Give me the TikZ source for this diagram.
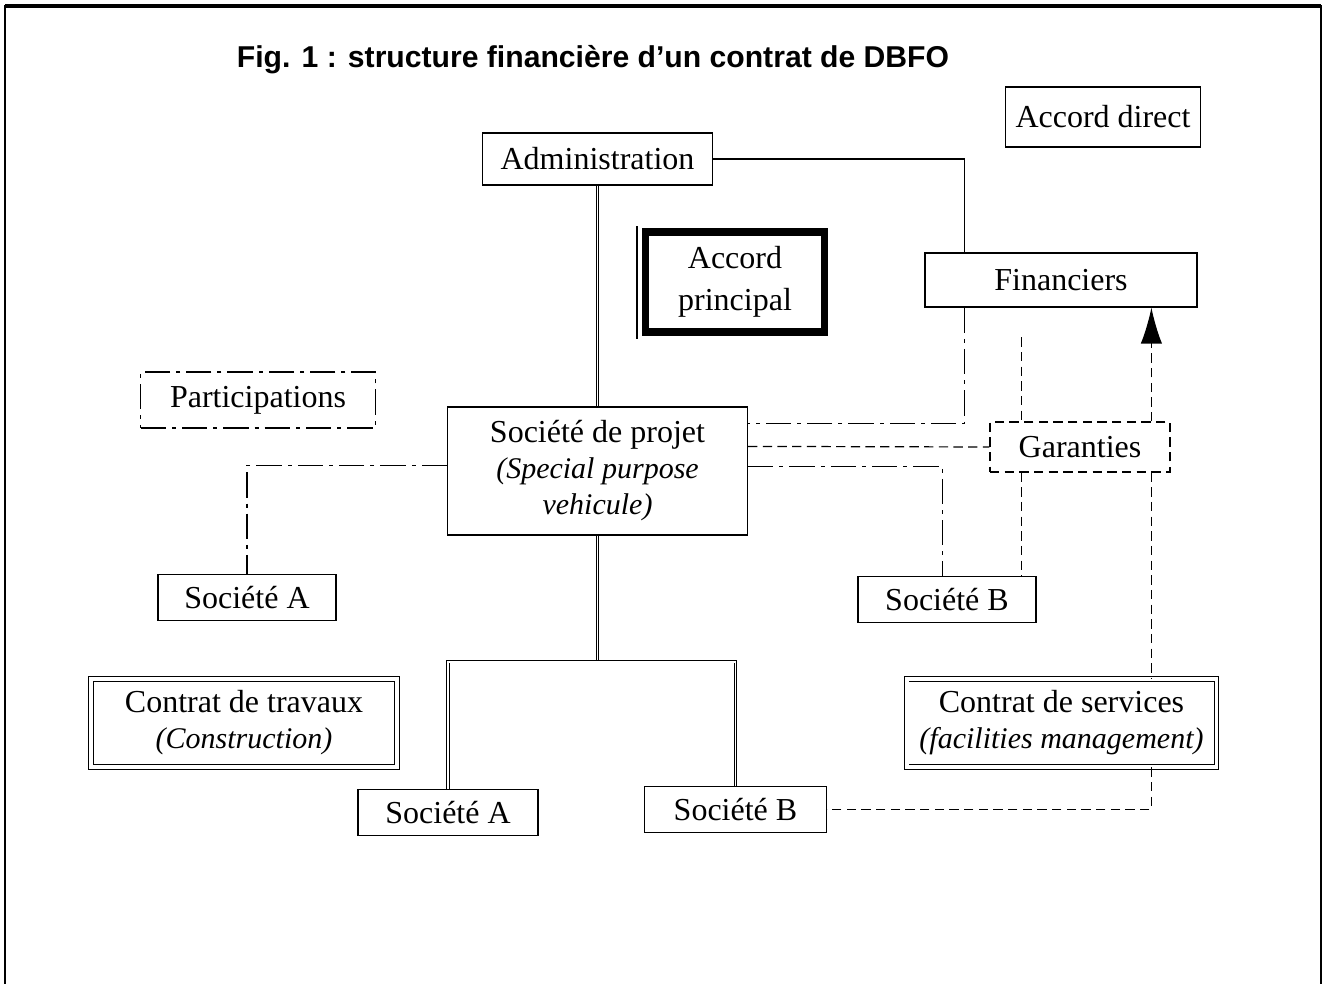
\documentclass[tikz,border=0pt]{standalone}
\usepackage{fontspec}
\setmainfont{Liberation Serif}
\newfontfamily\titlefont{Liberation Sans}
\usetikzlibrary{calc,arrows.meta}
\tikzset{every picture/.style={line width=0.9pt}}
\tikzset{
	cbox/.style={draw, inner sep=0pt, align=center, font=\fontsize{24}{27}\selectfont},
	dblbox/.style={cbox, double, double distance=2.5pt, line width=0.7pt},
	dashbox/.style={cbox, dash pattern=on 7pt off 4pt},
	chainbox/.style={cbox, dash pattern=on 19pt off 4.5pt on 3pt off 4.5pt},
	dbl/.style={double, double distance=1.4pt, line width=0.65pt},
	dashln/.style={dash pattern=on 7pt off 4pt},
	chainln/.style={dash pattern=on 19pt off 4.5pt on 3pt off 4.5pt},
}
\newcommand\itl[1]{{\fontsize{22.5}{27}\selectfont\itshape #1}}

\begin{document}
\begin{tikzpicture}[x=0.75pt,y=0.75pt,yscale=-1,xscale=1]
	\useasboundingbox (0,0) rectangle (1325,984);
	
	%Frame
	\draw [line width=1.5pt] (5,984) -- (5,6) -- (1321,6) -- (1321,984) ;
	\draw [line width=2.3pt] (5,6) -- (1321,6) ;
	
	% Text Node
	\node (title) at (593,60) {\titlefont\bfseries\fontsize{22.6}{26}\selectfont Fig. 1 : structure financière d’un contrat de DBFO};
	
	%Shape: Rectangle
	\node [cbox, minimum width=146pt, minimum height=45pt] (accdir) at (1103,117) {Accord direct};
	\node [cbox, minimum width=172.5pt, minimum height=39pt] (admin) at (597.5,159) {Administration};
	%Shape: thick Rectangle
	\node [cbox, line width=5.6pt, minimum width=134pt, minimum height=75pt, font=\fontsize{24}{31.5}\selectfont] (accprin) at (735,282) {Accord\\principal};
	\draw ($(accprin.north west)+(-5,-2)$) -- ($(accprin.south west)+(-5,3)$) ;
	\node [cbox, minimum width=204pt, minimum height=40.5pt] (fin) at (1061,280) {Financiers};
	\node [chainbox, minimum width=176pt, minimum height=42pt] (partic) at (258,400) {Participations};
	\node [cbox, minimum width=225pt, minimum height=96pt] (sdp) at (597.5,471) {Société de projet\\\itl{(Special purpose}\\\itl{vehicule)}};
	\node [dashbox, minimum width=135pt, minimum height=37.5pt] (garant) at (1080,447) {Garanties};
	\node [cbox, minimum width=133.5pt, minimum height=34pt] (socAup) at (247,597.5) {Société A};
	\node [cbox, minimum width=133.5pt, minimum height=34pt] (socBup) at (947,599.5) {Société B};
	%Shape: double Rectangle
	\node [dblbox, minimum width=229.5pt, minimum height=66pt] (trav) at (244,723) {Contrat de travaux\\\itl{(Construction)}};
	\node [dblbox, minimum width=232pt, minimum height=66pt] (serv) at (1061.5,723) {Contrat de services\\\itl{(facilities management)}};
	\node [cbox, minimum width=135pt, minimum height=34pt] (socAlo) at (448,812.5) {Société A};
	\node [cbox, minimum width=136pt, minimum height=34pt] (socBlo) at (735.5,809.5) {Société B};
	
	%Points
	\coordinate (finA) at ($(fin.north west)+(40,0)$);
	\coordinate (sdpA) at ($(sdp.north east)+(0,17)$);
	\coordinate (sdpB) at ($(sdp.north east)+(0,40)$);
	\coordinate (sdpC) at ($(sdp.north east)+(0,60)$);
	\coordinate (sdpD) at ($(sdp.north west)+(0,59)$);
	\coordinate (garA) at ($(garant.north west)+(32,0)$);
	\coordinate (garB) at ($(garant.north west)+(162,0)$);
	\coordinate (garTop) at ($(garA)+(0,-84)$);
	\coordinate (sbA) at ($(socBup.north west)+(85,0)$);
	\coordinate (fork) at ($(sdp.south)+(0,126)$);
	
	%Straight Lines
	\draw [dbl] (admin.south) -- (sdp.north) ;
	\draw (admin.east) -| (finA) ;
	\draw [chainln] (finA |- fin.south) |- (sdpA) ;
	\draw [chainln] (sdpC) -| (sbA) ;
	\draw [chainln] (sdpD) -| (socAup.north) ;
	\draw [dashln] (sdpB) -- (garant.west) ;
	\draw [dashln] (garTop) -- (garA) ;
	\draw [dashln] (garA |- garant.south) -- (garA |- socBup.north) ;
	\draw [dashln, -{Latex[length=27pt,width=16pt]}] (garB) -- (garB |- fin.south) ;
	\draw [dashln] (garB |- garant.south) -- (garB |- serv.north) ;
	\draw [dashln] (garB |- serv.south) |- (socBlo.east) ;
	\draw [dbl] (sdp.south) -- (fork) ;
	\draw [dbl] (socAlo.north) |- (fork) -| (socBlo.north) ;
	
\end{tikzpicture}
\end{document}
